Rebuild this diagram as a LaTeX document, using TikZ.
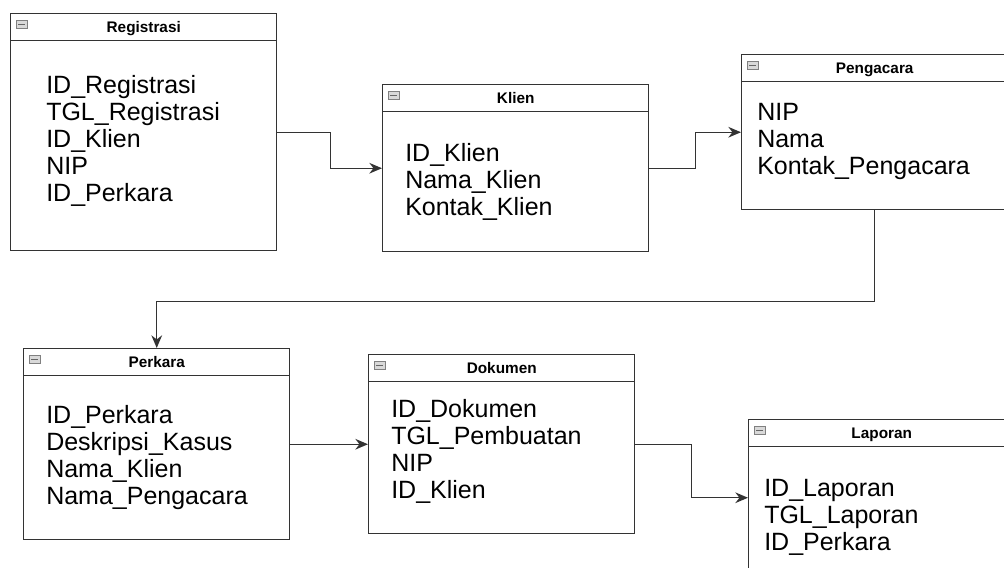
\documentclass[tikz,border=0pt]{standalone}
\usepackage{fontspec}
\setmainfont{Liberation Sans}
\usetikzlibrary{arrows.meta}

\tikzset{
  entity/.style={draw=black!80, line width=1.1pt, anchor=north west, minimum width=199.5pt, inner sep=0pt},
  title/.style={font=\fontsize{11.5}{13}\selectfont\bfseries, anchor=base, inner sep=0pt},
  attr/.style={font=\fontsize{18.75}{20}\selectfont, anchor=base west, inner sep=0pt},
  icon/.style={draw=gray, fill=gray!30, minimum width=8.25pt, minimum height=6pt, inner sep=0pt, anchor=north west,
    path picture={\draw[black!60, line width=0.9pt] ([xshift=1.6pt]path picture bounding box.west) -- ([xshift=-1.6pt]path picture bounding box.east);}},
  link/.style={draw=black!80, line width=1.1pt, -{Stealth[length=9.5pt,width=8pt]}}
}

\begin{document}
\begin{tikzpicture}[x=0.75pt,y=-0.75pt]
        \useasboundingbox (0,0) rectangle (1004,568);
        \clip (0,0) rectangle (1004,568);

        % Entity boxes
        \node[entity, minimum height=177.75pt] (reg) at (10,13) {};
        \node[entity, minimum height=125.25pt] (kli) at (382,84) {};
        \node[entity, minimum height=116.25pt] (pen) at (741,54) {};
        \node[entity, minimum height=143.25pt] (per) at (23,348) {};
        \node[entity, minimum height=134.25pt] (dok) at (368,354) {};
        \node[entity, minimum height=117pt] (lap) at (748,419) {};

        % Header line, icon and title of each box
        \foreach \e/\t in {reg/Registrasi, kli/Klien, pen/Pengacara, per/Perkara, dok/Dokumen, lap/Laporan} {
            \draw[black!80, line width=1.1pt] ([yshift=-20.6pt]\e.north west) -- ([yshift=-20.6pt]\e.north east);
            \node[icon] (\e-icon) at ([shift={(6,7)}]\e.north west) {};
            \node[title] (\e-title) at ([shift={(0,19)}]\e.north) {\t};
        }

        % Attributes
        \foreach \a [count=\i from 0] in {ID\_Registrasi, TGL\_Registrasi, ID\_Klien, NIP, ID\_Perkara}
            \node[attr] (reg-a\i) at ([shift={(36,80+27*\i)}]reg.north west) {\a};
        \foreach \a [count=\i from 0] in {ID\_Klien, Nama\_Klien, Kontak\_Klien}
            \node[attr] (kli-a\i) at ([shift={(23,77+27*\i)}]kli.north west) {\a};
        \foreach \a [count=\i from 0] in {NIP, Nama, Kontak\_Pengacara}
            \node[attr] (pen-a\i) at ([shift={(16,66+27*\i)}]pen.north west) {\a};
        \foreach \a [count=\i from 0] in {ID\_Perkara, Deskripsi\_Kasus, Nama\_Klien, Nama\_Pengacara}
            \node[attr] (per-a\i) at ([shift={(23,75+27*\i)}]per.north west) {\a};
        \foreach \a [count=\i from 0] in {ID\_Dokumen, TGL\_Pembuatan, NIP, ID\_Klien}
            \node[attr] (dok-a\i) at ([shift={(23,63+27*\i)}]dok.north west) {\a};
        \foreach \a [count=\i from 0] in {ID\_Laporan, TGL\_Laporan, ID\_Perkara}
            \node[attr] (lap-a\i) at ([shift={(16,77+27*\i)}]lap.north west) {\a};

        % Connectors
        \draw[link] (reg.east) -- ++(53,0) |- (kli.west);
        \draw[link] (kli.east) -- ++(46,0) |- (pen.west);
        \draw[link] (pen.south) -- ++(0,91) -| (per.north);
        \draw[link] (per.east) -- (dok.west);
        \draw[link] (dok.east) -- ++(56,0) |- (lap.west);
    \end{tikzpicture}
\end{document}
